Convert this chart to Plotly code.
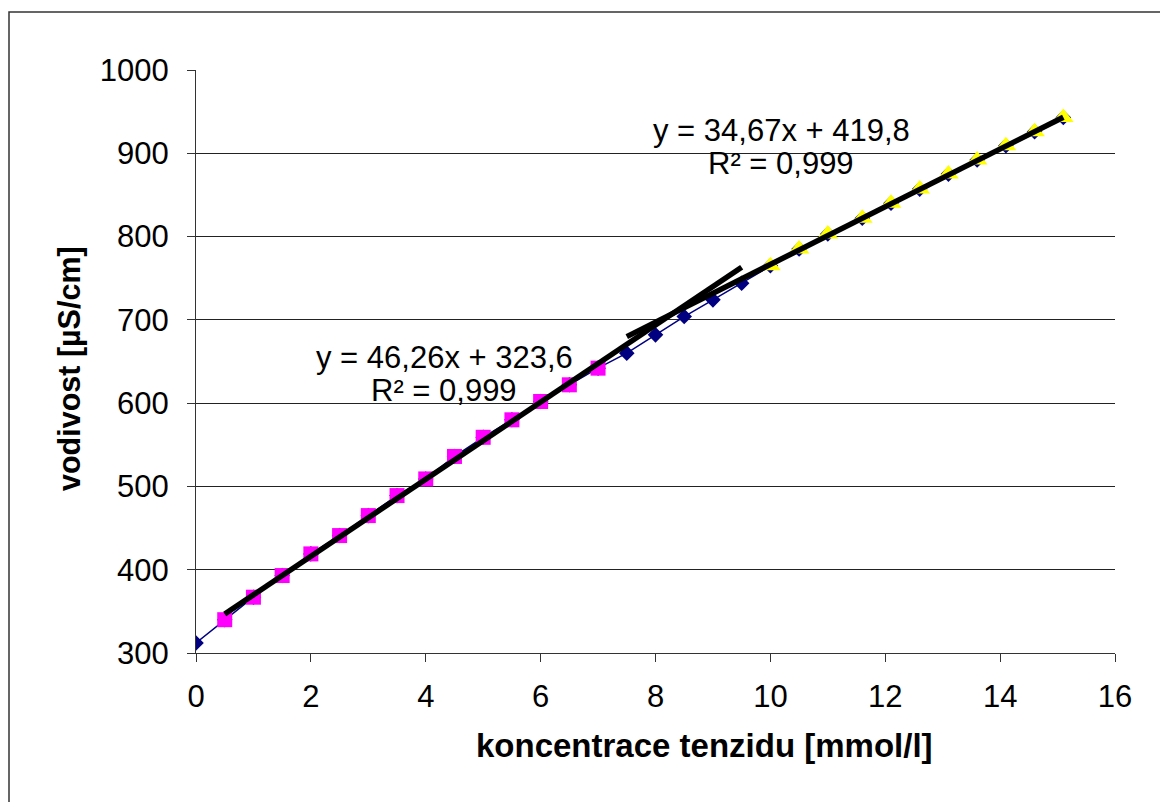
import plotly.graph_objects as go

# conductivity vs. surfactant concentration
conc_all = [0, 0.5, 1, 1.5, 2, 2.5, 3, 3.5, 4, 4.5, 5, 5.5, 6, 6.5, 7,
            7.5, 8, 8.5, 9, 9.5,
            10, 10.5, 11, 11.6, 12.1, 12.6, 13.1, 13.6, 14.1, 14.6, 15.1]
cond_all = [312, 340, 367, 393, 419, 441, 465, 489, 509, 536, 559, 580, 602, 622, 642,
            660, 682, 704, 724, 744,
            765, 785, 803, 822, 840, 857, 875, 892, 909, 926, 943]

# below the break (pink squares) and above it (yellow triangles)
conc_low = conc_all[1:15]
cond_low = cond_all[1:15]
conc_high = conc_all[20:]
cond_high = cond_all[20:]

# linear fits shown on the chart
fit1_slope, fit1_icpt, fit1_r2 = 46.26, 323.6, 0.999
fit1_range = [0.5, 9.5]
fit2_slope, fit2_icpt, fit2_r2 = 34.67, 419.8, 0.999
fit2_range = [7.5, 15.1]

x_ticks = [0, 2, 4, 6, 8, 10, 12, 14, 16]
y_ticks = [300, 400, 500, 600, 700, 800, 900, 1000]

FONT = "Liberation Sans, Arial, sans-serif"
W, H = 1160, 802
L, R, T, B = 196, 1115, 70, 653


def px(xp):
    return (xp - L) / (R - L)


def py(yp):
    return (B - yp) / (B - T)


def fmt(v):
    return f"{v}".replace(".", ",")


fig = go.Figure()

fig.add_trace(go.Scatter(
    x=conc_all, y=cond_all, mode="lines+markers",
    line=dict(color="#000080", width=1.5),
    marker=dict(symbol="diamond", size=12, color="#000080"),
    showlegend=False))

fig.add_trace(go.Scatter(
    x=conc_low, y=cond_low, mode="markers",
    marker=dict(symbol="square", size=15, color="#FF00FF"),
    showlegend=False))

fig.add_trace(go.Scatter(
    x=conc_high, y=cond_high, mode="markers",
    marker=dict(symbol="triangle-up", size=18, color="#FFFF00"),
    showlegend=False))

for slope, icpt, rng in [(fit1_slope, fit1_icpt, fit1_range),
                         (fit2_slope, fit2_icpt, fit2_range)]:
    fig.add_trace(go.Scatter(
        x=rng, y=[slope * v + icpt for v in rng], mode="lines",
        line=dict(color="black", width=5.5),
        showlegend=False))

annots = []
for slope, icpt, r2, cx, cy in [(fit1_slope, fit1_icpt, fit1_r2, 444, 358),
                                (fit2_slope, fit2_icpt, fit2_r2, 781, 130)]:
    annots.append(dict(x=px(cx), y=py(cy), xref="paper", yref="paper",
                       text=f"y = {fmt(slope)}x + {fmt(icpt)}", showarrow=False,
                       xanchor="center", yanchor="middle",
                       font=dict(family=FONT, size=31, color="black")))
    annots.append(dict(x=px(cx), y=py(cy + 33), xref="paper", yref="paper",
                       text=f"R² = {fmt(r2)}", showarrow=False,
                       xanchor="center", yanchor="middle",
                       font=dict(family=FONT, size=31, color="black")))

annots.append(dict(x=px(704), y=py(745), xref="paper", yref="paper",
                   text="<b>koncentrace tenzidu [mmol/l]</b>", showarrow=False,
                   xanchor="center", yanchor="middle",
                   font=dict(family=FONT, size=33, color="black")))
annots.append(dict(x=px(70), y=py(369), xref="paper", yref="paper",
                   text="<b>vodivost [µS/cm]</b>", showarrow=False, textangle=-90,
                   xanchor="center", yanchor="middle",
                   font=dict(family=FONT, size=30.5, color="black")))

fig.update_layout(
    width=W, height=H,
    margin=dict(l=L, r=W - R, t=T, b=H - B, autoexpand=False),
    paper_bgcolor="white", plot_bgcolor="white",
    font=dict(family=FONT, size=31, color="black"),
    annotations=annots,
    shapes=[dict(type="rect", xref="paper", yref="paper",
                 x0=px(9), x1=px(1175), y0=py(815), y1=py(12),
                 line=dict(color="#333333", width=1.5), layer="below")],
    xaxis=dict(range=[0, 16], tickvals=x_ticks, showgrid=False, zeroline=False,
               showline=True, linecolor="#333333", linewidth=1.2,
               ticks="outside", ticklen=8, tickcolor="#333333",
               ticklabelstandoff=8,
               tickfont=dict(family=FONT, size=31, color="black")),
    yaxis=dict(range=[300, 1000], tickvals=y_ticks, showgrid=True,
               gridcolor="#222222", gridwidth=1, zeroline=False,
               showline=True, linecolor="#333333", linewidth=1.2,
               ticks="outside", ticklen=8, tickcolor="#333333",
               ticklabelstandoff=12,
               tickfont=dict(family=FONT, size=31, color="black")),
)

fig.write_html("out.html")
